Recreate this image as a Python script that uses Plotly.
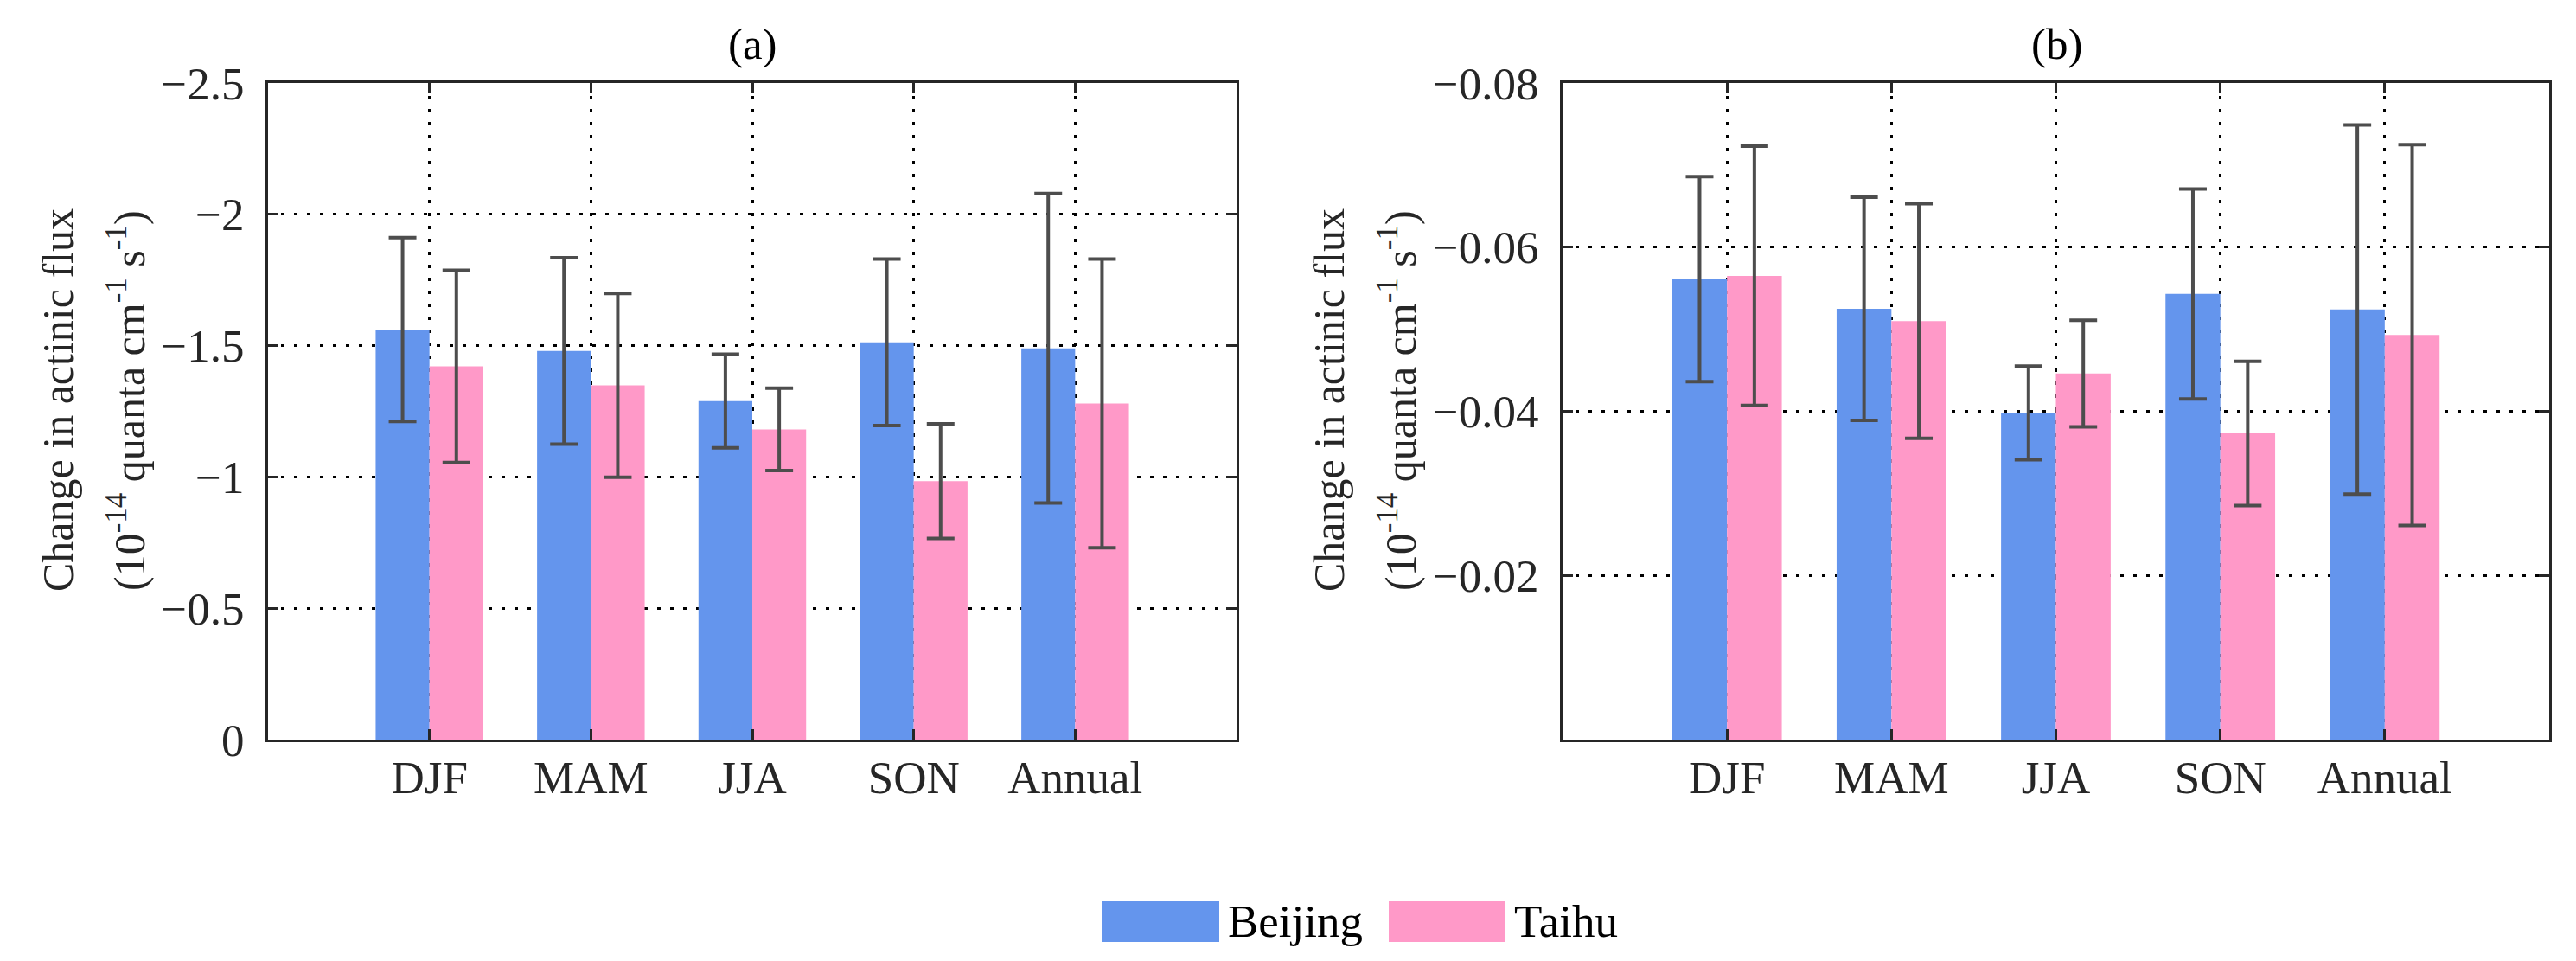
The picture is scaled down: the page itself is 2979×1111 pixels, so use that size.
import plotly.graph_objects as go
from plotly.subplots import make_subplots

seasons = ["DJF", "MAM", "JJA", "SON", "Annual"]

# panel (a)
beijing_a = [-1.561, -1.480, -1.289, -1.513, -1.490]
beijing_a_err = [0.350, 0.355, 0.178, 0.317, 0.589]
taihu_a = [-1.421, -1.349, -1.181, -0.984, -1.280]
taihu_a_err = [0.366, 0.350, 0.157, 0.218, 0.550]
ticks_a = [-2.5, -2, -1.5, -1, -0.5, 0]
ticktext_a = ["\u22122.5", "\u22122", "\u22121.5", "\u22121", "\u22120.5", "0"]

# panel (b)
beijing_b = [-0.0561, -0.0525, -0.0398, -0.0543, -0.0524]
beijing_b_err = [0.0125, 0.0136, 0.0057, 0.0128, 0.0225]
taihu_b = [-0.0565, -0.0510, -0.0446, -0.0373, -0.0493]
taihu_b_err = [0.0158, 0.0143, 0.0065, 0.0088, 0.0232]
ticks_b = [-0.08, -0.06, -0.04, -0.02]
ticktext_b = ["\u22120.08", "\u22120.06", "\u22120.04", "\u22120.02"]

BLUE = "#6495ED"
PINK = "#FF99C8"
ERR = "#4D4D4D"
AXIS = "#262626"
FONT = "Liberation Serif, Times New Roman, serif"

W, H = 2979, 1111


def px_x(p):
    return p / W


def px_y(p):
    return 1 - p / H


fig = make_subplots(rows=1, cols=2)

panels = [
    (1, beijing_a, beijing_a_err, taihu_a, taihu_a_err),
    (2, beijing_b, beijing_b_err, taihu_b, taihu_b_err),
]
for col, b, be, t, te in panels:
    fig.add_trace(
        go.Bar(
            x=seasons, y=b, name="Beijing", marker_color=BLUE, marker_line_width=0,
            error_y=dict(type="data", array=be, symmetric=True, color=ERR, thickness=4, width=16),
            showlegend=False,
        ),
        row=1, col=col,
    )
    fig.add_trace(
        go.Bar(
            x=seasons, y=t, name="Taihu", marker_color=PINK, marker_line_width=0,
            error_y=dict(type="data", array=te, symmetric=True, color=ERR, thickness=4, width=16),
            showlegend=False,
        ),
        row=1, col=col,
    )

common_x = dict(
    type="category", range=[-1, 5], showline=True, linecolor=AXIS, linewidth=3, mirror="allticks",
    ticks="inside", ticklen=12, tickwidth=3, tickcolor=AXIS, automargin=False,
    showgrid=True, gridcolor="black", gridwidth=3, griddash="4px,11px",
    tickfont=dict(family=FONT, size=53, color=AXIS), ticklabelstandoff=-5,
)
common_y = dict(
    showline=True, linecolor=AXIS, linewidth=3, mirror="allticks", automargin=False,
    ticks="inside", ticklen=12, tickwidth=3, tickcolor=AXIS, zeroline=False,
    showgrid=True, gridcolor="black", gridwidth=3, griddash="4px,11px",
    tickfont=dict(family=FONT, size=53, color=AXIS), ticklabelstandoff=14,
)

y_dom = [px_y(847), px_y(88)]
fig.update_layout(
    xaxis=dict(common_x, domain=[px_x(302), px_x(1422)]),
    xaxis2=dict(common_x, domain=[px_x(1799), px_x(2940)]),
    yaxis=dict(common_y, domain=y_dom, range=[0, -2.5], tickvals=ticks_a, ticktext=ticktext_a),
    yaxis2=dict(common_y, domain=y_dom, range=[0, -0.08], tickvals=ticks_b, ticktext=ticktext_b),
    barmode="group",
    bargap=1 / 3,
    bargroupgap=0,
    width=W,
    height=H,
    margin=dict(l=0, r=0, t=0, b=0),
    plot_bgcolor="white",
    paper_bgcolor="white",
    font=dict(family=FONT, color="black"),
    showlegend=False,
)

# panel titles
for label, cx in [("(a)", 862), ("(b)", 2370)]:
    fig.add_annotation(
        text=label, x=px_x(cx), y=px_y(43), xref="paper", yref="paper",
        xanchor="center", yanchor="middle", showarrow=False,
        font=dict(family=FONT, size=51, color="black"),
    )

# y axis titles, one annotation per line
ytitle_1 = "Change in actinic flux"
ytitle_2 = "(10<sup>-14</sup> quanta cm<sup>-1</sup> s<sup>-1</sup>)"
for shift in [0, 1470]:
    for text, cx in [(ytitle_1, 59), (ytitle_2, 138)]:
        fig.add_annotation(
            text=text, x=px_x(cx + shift), y=px_y(455), xref="paper", yref="paper",
            xanchor="center", yanchor="middle", textangle=-90, showarrow=False,
            font=dict(family=FONT, size=50, color=AXIS),
        )

# legend drawn as boxes + labels
legend_items = [("Beijing", BLUE, 1266, 1402), ("Taihu", PINK, 1598, 1733)]
for name, color, x0, x1 in legend_items:
    fig.add_shape(
        type="rect", xref="paper", yref="paper",
        x0=px_x(x0), x1=px_x(x1), y0=px_y(1081), y1=px_y(1034),
        fillcolor=color, line_width=0,
    )
    fig.add_annotation(
        text=name, x=px_x(x1 + 8), y=px_y(1057), xref="paper", yref="paper",
        xanchor="left", yanchor="middle", showarrow=False,
        font=dict(family=FONT, size=53, color="black"),
    )

fig.write_html("out.html")
